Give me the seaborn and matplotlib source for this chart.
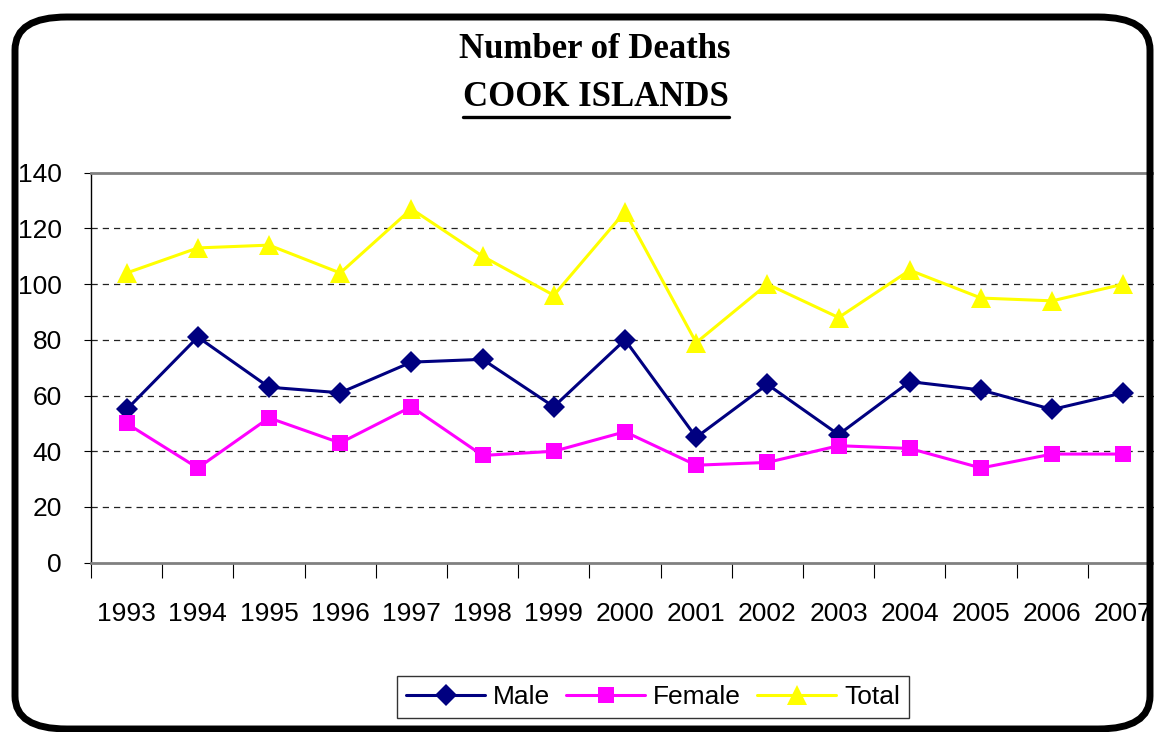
"""
Number of deaths, Cook Islands 1993-2007 (male / female / total).
Writes out.png
"""
import matplotlib
matplotlib.use("Agg")
import matplotlib.pyplot as plt
from matplotlib.lines import Line2D
from matplotlib.patches import FancyBboxPatch
from matplotlib.ticker import FixedLocator, NullFormatter
import pandas as pd
import seaborn as sns

YEARS = list(range(1993, 2008))
MALE = [55, 81, 63, 61, 72, 73, 56, 80, 45, 64, 46, 65, 62, 55, 61]
FEMALE = [50, 34, 52, 43, 56, 38.5, 40, 47, 35, 36, 42, 41, 34, 39, 39]
TOTAL = [104, 113, 114, 104, 127, 110, 96, 126, 79, 100, 88, 105, 95, 94, 100]
SERIES = ["Male", "Female", "Total"]
COLORS = {"Male": "#000080", "Female": "#FF00FF", "Total": "#FFFF00"}
MARKERS = {"Male": "D", "Female": "s", "Total": "^"}
MSIZE = {"Male": 11, "Female": 12, "Total": 15}
Y_TICKS = [0, 20, 40, 60, 80, 100, 120, 140]

W, H = 1154, 732

sns.set_style("white")
plt.rcParams["font.family"] = ["Liberation Sans", "DejaVu Sans"]
plt.rcParams["text.color"] = "black"
plt.rcParams["xtick.color"] = "black"
plt.rcParams["ytick.color"] = "black"

df = pd.DataFrame({"year": YEARS * 3,
                   "deaths": MALE + FEMALE + TOTAL,
                   "series": [s for s in SERIES for _ in YEARS]})

fig = plt.figure(figsize=(W / 100, H / 100), dpi=100)
fig.patch.set_facecolor("white")
ax = fig.add_axes([91 / W, 1 - 562.7 / H, (15 * 71.2) / W, (562.7 - 172.7) / H])

sns.lineplot(data=df, x="year", y="deaths", hue="series", style="series",
             hue_order=SERIES, palette=COLORS, markers=MARKERS, dashes=False,
             linewidth=2.2, markeredgewidth=0, ax=ax, legend=False)
for line, s in zip(ax.lines, SERIES):
    line.set_markersize(MSIZE[s])

ax.set_xlim(YEARS[0] - 0.5, YEARS[-1] + 0.5)
ax.set_ylim(0, 140)
ax.set_xlabel("")
ax.set_ylabel("")

# category boundaries get the tick marks, the labels sit at the centres
ax.xaxis.set_major_locator(FixedLocator([y - 0.5 for y in YEARS]))
ax.xaxis.set_major_formatter(NullFormatter())
ax.xaxis.set_minor_locator(FixedLocator(YEARS))
ax.set_xticklabels([str(y) for y in YEARS], minor=True)
ax.tick_params(axis="x", which="major", direction="out", length=10.5,
               width=0.8, color="black", bottom=True)
ax.tick_params(axis="x", which="minor", length=0, pad=28, labelsize=19,
               labelcolor="black")
ax.set_yticks(Y_TICKS)
ax.tick_params(axis="y", direction="out", length=5, width=0.8, color="black",
               left=True, pad=16, labelsize=19, labelcolor="black")

for v in Y_TICKS[1:-1]:
    ax.axhline(v, color="#222222", lw=0.9, ls=(0, (5, 4)), zorder=0)

for side in ["top", "bottom"]:
    ax.spines[side].set_color("#808080")
    ax.spines[side].set_linewidth(2)
ax.spines["left"].set_color("black")
ax.spines["left"].set_linewidth(1)
ax.spines["right"].set_visible(False)

# title, second line underlined
fig.text(595 / W, 1 - 50 / H, "Number of Deaths", ha="center", va="center",
         fontsize=25, fontweight="bold", family="Liberation Serif", color="black")
t2 = fig.text(596 / W, 1 - 98 / H, "COOK ISLANDS", ha="center", va="center",
              fontsize=25, fontweight="bold", family="Liberation Serif", color="black")
fig.canvas.draw()
bb = t2.get_window_extent().transformed(fig.transFigure.inverted())
fig.add_artist(Line2D([bb.x0, bb.x1], [bb.y0 - 0.004, bb.y0 - 0.004],
                      transform=fig.transFigure, color="black", lw=2.4))

handles = [Line2D([], [], color=COLORS[s], marker=MARKERS[s], lw=2.2,
                  markersize=MSIZE[s], markeredgewidth=0) for s in SERIES]
leg = fig.legend(handles, SERIES, loc="center", bbox_to_anchor=(653 / W, 1 - 697 / H),
                 ncol=3, fontsize=19, frameon=True, fancybox=False,
                 handlelength=3.0, handletextpad=0.3, columnspacing=0.6,
                 borderpad=0.35, edgecolor="black")
leg.get_frame().set_linewidth(1)

frame = FancyBboxPatch((15 / W, 1 - 729 / H), 1135 / W, 712 / H,
                       boxstyle="round,pad=0,rounding_size=0.045",
                       transform=fig.transFigure, facecolor="none",
                       edgecolor="black", linewidth=5, zorder=10)
fig.add_artist(frame)

fig.savefig("out.png", dpi=100)
